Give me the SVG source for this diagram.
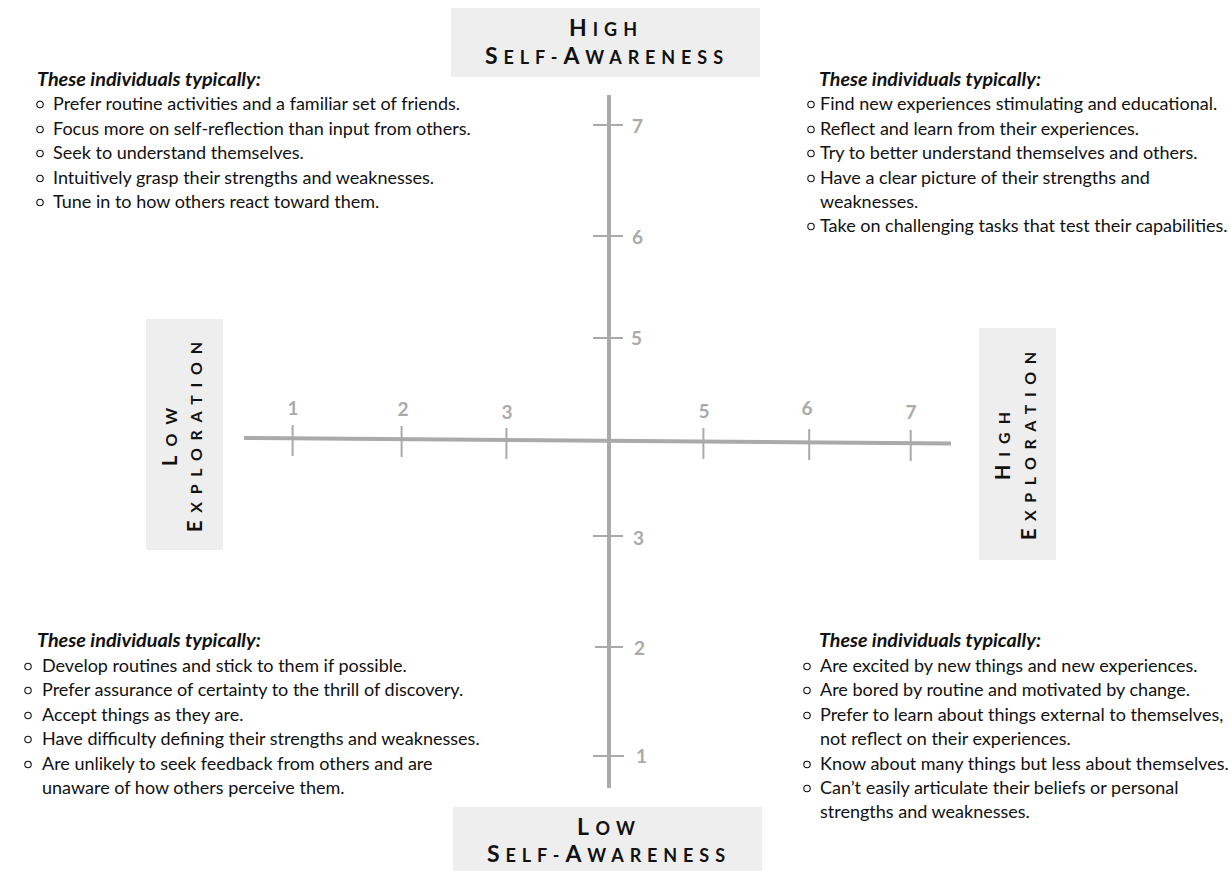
<svg xmlns="http://www.w3.org/2000/svg" width="1231" height="871" viewBox="0 0 1231 871">
<style>
.bg{fill:#ffffff}
.box{fill:#eeeeee}
.cap{font-family:Lato,"Liberation Sans",sans-serif;font-weight:700;fill:#111111}
.big{font-size:23px}
.sm{font-size:18px}
.sbig{font-size:20px}
.ssm{font-size:16px}
.axis{stroke:#aaaaaa;stroke-width:4;fill:none}
.tick{stroke:#aaaaaa;stroke-width:2;fill:none}
.num{font-family:Lato,"Liberation Sans",sans-serif;font-weight:700;font-size:19px;fill:#aaaaaa}
.hd{font-family:Lato,"Liberation Sans",sans-serif;font-weight:700;font-style:italic;font-size:18.5px;fill:#111111}
.tx{font-family:Lato,"Liberation Sans",sans-serif;font-size:18px;fill:#111111}
.bul{fill:none;stroke:#111111;stroke-width:1.1}
</style>
<rect class="bg" x="0" y="0" width="1231" height="871"/>

<g id="axes">
  <line class="axis" x1="244" y1="438" x2="951" y2="443.5"/>
  <line class="axis" x1="609" y1="95" x2="609" y2="788"/>
  <g id="x-ticks">
    <line class="tick" x1="292.6" y1="425" x2="292.6" y2="456"/>
    <line class="tick" x1="401.6" y1="426" x2="401.6" y2="457"/>
    <line class="tick" x1="506.4" y1="428" x2="506.4" y2="459"/>
    <line class="tick" x1="703.4" y1="428" x2="703.4" y2="459"/>
    <line class="tick" x1="809.2" y1="429" x2="809.2" y2="460"/>
    <line class="tick" x1="910.7" y1="430" x2="910.7" y2="461"/>
    <text class="num" x="293" y="415" text-anchor="middle">1</text>
    <text class="num" x="403" y="416" text-anchor="middle">2</text>
    <text class="num" x="507" y="419" text-anchor="middle">3</text>
    <text class="num" x="704" y="418" text-anchor="middle">5</text>
    <text class="num" x="807" y="415" text-anchor="middle">6</text>
    <text class="num" x="911" y="419" text-anchor="middle">7</text>
  </g>
  <g id="y-ticks">
    <line class="tick" x1="593" y1="125" x2="623" y2="125"/>
    <line class="tick" x1="593" y1="236" x2="623" y2="236"/>
    <line class="tick" x1="593" y1="338" x2="623" y2="338"/>
    <line class="tick" x1="593" y1="536" x2="623" y2="536"/>
    <line class="tick" x1="595" y1="647" x2="623" y2="647"/>
    <line class="tick" x1="593" y1="756" x2="624" y2="756"/>
    <text class="num" x="632" y="133">7</text>
    <text class="num" x="632" y="244">6</text>
    <text class="num" x="631" y="345">5</text>
    <text class="num" x="633" y="545">3</text>
    <text class="num" x="634" y="655">2</text>
    <text class="num" x="636" y="763">1</text>
  </g>
</g>

<g id="high-self-awareness">
  <rect class="box" x="451" y="8" width="309" height="69"/>
  <text class="cap" x="569" y="36" textLength="68" lengthAdjust="spacing"><tspan class="big">H</tspan><tspan class="sm">IGH</tspan></text>
  <text class="cap" x="485" y="64" textLength="238" lengthAdjust="spacing"><tspan class="big">S</tspan><tspan class="sm">ELF-</tspan><tspan class="big">A</tspan><tspan class="sm">WARENESS</tspan></text>
</g>

<g id="low-self-awareness">
  <rect class="box" x="453" y="807" width="309" height="64"/>
  <text class="cap" x="577" y="835" textLength="58" lengthAdjust="spacing"><tspan class="big">L</tspan><tspan class="sm">OW</tspan></text>
  <text class="cap" x="487" y="862" textLength="238" lengthAdjust="spacing"><tspan class="big">S</tspan><tspan class="sm">ELF-</tspan><tspan class="big">A</tspan><tspan class="sm">WARENESS</tspan></text>
</g>

<g id="low-exploration">
  <rect class="box" x="146" y="319" width="77" height="231"/>
  <text class="cap" transform="translate(177,466) rotate(-90)" x="0" y="0" textLength="58" lengthAdjust="spacing"><tspan class="sbig">L</tspan><tspan class="ssm">OW</tspan></text>
  <text class="cap" transform="translate(202,532) rotate(-90)" x="0" y="0" textLength="190" lengthAdjust="spacing"><tspan class="sbig">E</tspan><tspan class="ssm">XPLORATION</tspan></text>
</g>

<g id="high-exploration">
  <rect class="box" x="979" y="328" width="77" height="232"/>
  <text class="cap" transform="translate(1010,480) rotate(-90)" x="0" y="0" textLength="68" lengthAdjust="spacing"><tspan class="sbig">H</tspan><tspan class="ssm">IGH</tspan></text>
  <text class="cap" transform="translate(1036,540) rotate(-90)" x="0" y="0" textLength="188" lengthAdjust="spacing"><tspan class="sbig">E</tspan><tspan class="ssm">XPLORATION</tspan></text>
</g>

<g id="quadrant-top-left">
  <text class="hd" x="37" y="86" textLength="224" lengthAdjust="spacingAndGlyphs">These individuals typically:</text>
  <circle class="bul" cx="40" cy="104.5" r="3.2"/>
  <circle class="bul" cx="40" cy="129.5" r="3.2"/>
  <circle class="bul" cx="40" cy="153.5" r="3.2"/>
  <circle class="bul" cx="40" cy="178.5" r="3.2"/>
  <circle class="bul" cx="40" cy="202.5" r="3.2"/>
  <text class="tx" x="53" y="110">Prefer routine activities and a familiar set of friends.</text>
  <text class="tx" x="53" y="135">Focus more on self-reflection than input from others.</text>
  <text class="tx" x="53" y="159">Seek to understand themselves.</text>
  <text class="tx" x="53" y="184">Intuitively grasp their strengths and weaknesses.</text>
  <text class="tx" x="53" y="208">Tune in to how others react toward them.</text>
</g>

<g id="quadrant-top-right">
  <text class="hd" x="819" y="86" textLength="222" lengthAdjust="spacingAndGlyphs">These individuals typically:</text>
  <circle class="bul" cx="811" cy="104.5" r="3.2"/>
  <circle class="bul" cx="811" cy="129.5" r="3.2"/>
  <circle class="bul" cx="811" cy="153.5" r="3.2"/>
  <circle class="bul" cx="811" cy="178.5" r="3.2"/>
  <circle class="bul" cx="811" cy="226.5" r="3.2"/>
  <text class="tx" x="820" y="110">Find new experiences stimulating and educational.</text>
  <text class="tx" x="820" y="135">Reflect and learn from their experiences.</text>
  <text class="tx" x="820" y="159">Try to better understand themselves and others.</text>
  <text class="tx" x="820" y="184">Have a clear picture of their strengths and</text>
  <text class="tx" x="820" y="208">weaknesses.</text>
  <text class="tx" x="820" y="232">Take on challenging tasks that test their capabilities.</text>
</g>

<g id="quadrant-bottom-left">
  <text class="hd" x="37" y="647" textLength="224" lengthAdjust="spacingAndGlyphs">These individuals typically:</text>
  <circle class="bul" cx="28" cy="666.5" r="3.2"/>
  <circle class="bul" cx="28" cy="690.5" r="3.2"/>
  <circle class="bul" cx="28" cy="715.5" r="3.2"/>
  <circle class="bul" cx="28" cy="739.5" r="3.2"/>
  <circle class="bul" cx="28" cy="764.5" r="3.2"/>
  <text class="tx" x="42" y="672">Develop routines and stick to them if possible.</text>
  <text class="tx" x="42" y="696">Prefer assurance of certainty to the thrill of discovery.</text>
  <text class="tx" x="42" y="721">Accept things as they are.</text>
  <text class="tx" x="42" y="745">Have difficulty defining their strengths and weaknesses.</text>
  <text class="tx" x="42" y="770">Are unlikely to seek feedback from others and are</text>
  <text class="tx" x="42" y="794">unaware of how others perceive them.</text>
</g>

<g id="quadrant-bottom-right">
  <text class="hd" x="819" y="647" textLength="222" lengthAdjust="spacingAndGlyphs">These individuals typically:</text>
  <circle class="bul" cx="807" cy="666.5" r="3.2"/>
  <circle class="bul" cx="807" cy="690.5" r="3.2"/>
  <circle class="bul" cx="807" cy="715.5" r="3.2"/>
  <circle class="bul" cx="807" cy="764.5" r="3.2"/>
  <circle class="bul" cx="807" cy="788.5" r="3.2"/>
  <text class="tx" x="820" y="672">Are excited by new things and new experiences.</text>
  <text class="tx" x="820" y="696">Are bored by routine and motivated by change.</text>
  <text class="tx" x="820" y="721">Prefer to learn about things external to themselves,</text>
  <text class="tx" x="820" y="745">not reflect on their experiences.</text>
  <text class="tx" x="820" y="770">Know about many things but less about themselves.</text>
  <text class="tx" x="820" y="794">Can’t easily articulate their beliefs or personal</text>
  <text class="tx" x="820" y="818">strengths and weaknesses.</text>
</g>
</svg>
